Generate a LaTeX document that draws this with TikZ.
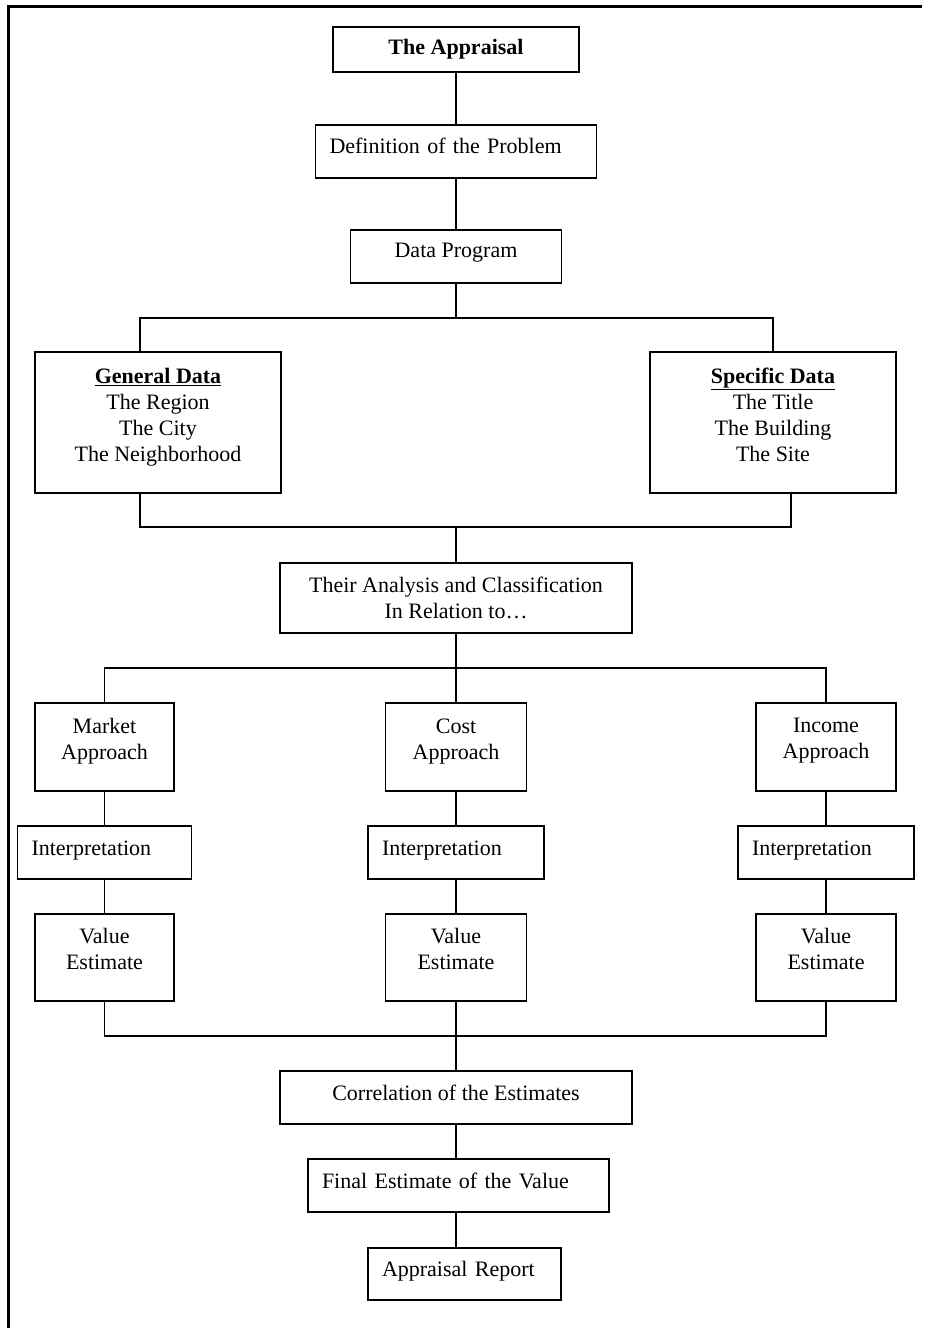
\documentclass[tikz,border=0pt]{standalone}
\usepackage{fontspec}
\setmainfont{Liberation Serif}

% strut that lowers the bottom of a line, so the text sits high in its box
\newcommand{\botgap}[1][10pt]{\rule[-#1]{0pt}{0pt}}

\tikzset{
  box/.style={draw, line width=1.4pt, align=center, inner sep=0pt},
  lbox/.style={box, align=left, inner xsep=14pt, text width=#1},
  link/.style={line width=1.2pt}
}

\begin{document}
\begin{tikzpicture}[x=1pt, y=-1pt, font=\fontsize{22}{26}\selectfont]
  \useasboundingbox (0,0) rectangle (931,1328);
  \draw[line width=3pt] (8,1328) -- (8,6) -- (922,6);

  % top chain
  \node[box, minimum width=246pt, minimum height=45pt] (appr) at (456,49.5)
       {\textbf{The Appraisal}};
  \node[lbox=253pt, minimum height=53pt] (defn) at (456,151.5)
       {Definition of the Problem\botgap[11.5pt]};
  \node[box, minimum width=211pt, minimum height=53pt] (data) at (456,256.5)
       {Data Program\botgap[11.5pt]};

  % data groups
  \node[box, minimum width=246pt, minimum height=141pt] (gen) at (158,422.5)
       {\underline{\textbf{General Data}}\\The Region\\The City\\The Neighborhood\botgap[15.5pt]};
  \node[box, minimum width=246pt, minimum height=141pt] (spec) at (773,422.5)
       {\underline{\textbf{Specific Data}}\\The Title\\The Building\\The Site\botgap[15.5pt]};
  \node[box, minimum width=352pt, minimum height=70pt] (anal) at (456,598)
       {Their Analysis and Classification\\In Relation to…};

  % three approaches
  \node[box, minimum width=139pt, minimum height=88pt] (mkt) at (104.5,747)
       {Market\\Approach\botgap[16.5pt]};
  \node[box, minimum width=141pt, minimum height=88pt] (cost) at (456,747)
       {Cost\\Approach\botgap[16.5pt]};
  \node[box, minimum width=140pt, minimum height=88pt] (inc) at (826,747)
       {Income\\Approach\botgap[16.5pt]};

  \node[lbox=146pt, minimum height=53pt] (int1) at (104.5,852.5)
       {Interpretation\botgap[9.5pt]};
  \node[lbox=148pt, minimum height=53pt] (int2) at (456,852.5)
       {Interpretation\botgap[9.5pt]};
  \node[lbox=148pt, minimum height=53pt] (int3) at (826,852.5)
       {Interpretation\botgap[9.5pt]};

  \node[box, minimum width=139pt, minimum height=87pt] (val1) at (104.5,957.5)
       {Value\\Estimate\botgap[16.5pt]};
  \node[box, minimum width=141pt, minimum height=87pt] (val2) at (456,957.5)
       {Value\\Estimate\botgap[16.5pt]};
  \node[box, minimum width=140pt, minimum height=87pt] (val3) at (826,957.5)
       {Value\\Estimate\botgap[16.5pt]};

  % bottom chain
  \node[box, minimum width=352pt, minimum height=53pt] (corr) at (456,1097.5)
       {Correlation of the Estimates\botgap[9.5pt]};
  \node[lbox=273pt, minimum height=53pt] (fin) at (458.5,1185.5)
       {Final Estimate of the Value\botgap[9.5pt]};
  \node[lbox=165pt, minimum height=52pt] (rep) at (464.5,1274)
       {Appraisal Report\botgap[10.5pt]};

  % junctions
  \coordinate (j1) at (456,318);
  \coordinate (j2) at (456,527);
  \coordinate (j3) at (456,668);
  \coordinate (j4) at (456,1036);

  \draw[link] (appr) -- (defn);
  \draw[link] (defn) -- (data);
  \draw[link] (data) -- (j1);
  \draw[link] ([xshift=-18pt]gen.north) |- (j1) -| (spec.north);
  \draw[link] ([xshift=-18pt]gen.south) |- (j2) -| ([xshift=18pt]spec.south);
  \draw[link] (j2) -- (anal.north);
  \draw[link] (anal.south) -- (j3);
  \draw[link] (mkt.north) |- (j3) -| (inc.north);
  \draw[link] (j3) -- (cost.north);
  \foreach \a/\b/\c in {mkt/int1/val1, cost/int2/val2, inc/int3/val3} {
    \draw[link] (\a) -- (\b) -- (\c);
  }
  \draw[link] (val1.south) |- (j4) -| (val3.south);
  \draw[link] (val2.south) -- (corr.north);
  \draw[link] (corr.south) -- (corr.south |- fin.north);
  \draw[link] (corr.south |- fin.south) -- (corr.south |- rep.north);
\end{tikzpicture}
\end{document}
